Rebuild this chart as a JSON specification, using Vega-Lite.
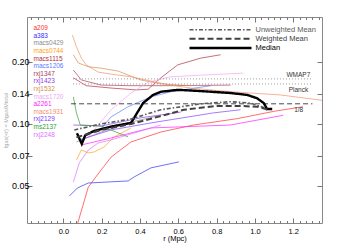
{
 "$schema": "https://vega.github.io/schema/vega-lite/v6.json",
 "width": 295, "height": 206,
 "autosize": {"type": "none"},
 "padding": {"left": 27, "top": 17, "right": 27, "bottom": 24},
 "background": "white",
 "config": {
  "view": {"stroke": "#888", "strokeWidth": 1},
  "font": "Liberation Sans",
  "axis": {"domain": false, "grid": false, "tickColor": "#777", "labelColor": "#000", "titleFontWeight": "normal", "labelFont": "Liberation Sans", "titleFont": "Liberation Sans"}
 },
 "datasets": {
  "clusters": [
   {"c":"a209","r":0.075,"f":0.0331},{"c":"a209","r":0.13,"f":0.0494},{"c":"a209","r":0.197,"f":0.0598},{"c":"a209","r":0.249,"f":0.069},{"c":"a209","r":0.353,"f":0.0817},{"c":"a209","r":0.509,"f":0.0913},{"c":"a209","r":0.68,"f":0.0987},{"c":"a209","r":0.909,"f":0.106},{"c":"a209","r":1.1,"f":0.115},{"c":"a209","r":1.25,"f":0.121},
   {"c":"a383","r":0.031,"f":0.0447},{"c":"a383","r":0.073,"f":0.0489},{"c":"a383","r":0.13,"f":0.0517},{"c":"a383","r":0.338,"f":0.0529},{"c":"a383","r":0.369,"f":0.0553},{"c":"a383","r":0.457,"f":0.0612},{"c":"a383","r":0.603,"f":0.0654},
   {"c":"macs0429","r":0.068,"f":0.0817},{"c":"macs0429","r":0.197,"f":0.0913},{"c":"macs0429","r":0.353,"f":0.102},{"c":"macs0429","r":0.509,"f":0.11},
   {"c":"macs0744","r":0.068,"f":0.0668},{"c":"macs0744","r":0.094,"f":0.0747},{"c":"macs0744","r":0.13,"f":0.0723},{"c":"macs0744","r":0.161,"f":0.0731},{"c":"macs0744","r":0.213,"f":0.0773},{"c":"macs0744","r":0.265,"f":0.0864},{"c":"macs0744","r":0.353,"f":0.0955},
   {"c":"macs1115","r":0.052,"f":0.167},{"c":"macs1115","r":0.119,"f":0.153},{"c":"macs1115","r":0.249,"f":0.149},{"c":"macs1115","r":0.379,"f":0.146},{"c":"macs1115","r":0.442,"f":0.147},{"c":"macs1115","r":0.509,"f":0.167},{"c":"macs1115","r":0.597,"f":0.193},{"c":"macs1115","r":0.717,"f":0.208},{"c":"macs1115","r":0.821,"f":0.216},
   {"c":"macs1206","r":0.182,"f":0.0913},{"c":"macs1206","r":0.249,"f":0.108},{"c":"macs1206","r":0.338,"f":0.121},{"c":"macs1206","r":0.457,"f":0.135},{"c":"macs1206","r":0.561,"f":0.143},{"c":"macs1206","r":0.769,"f":0.153},
   {"c":"rxj1347","r":0.052,"f":0.182},{"c":"rxj1347","r":0.094,"f":0.163},{"c":"rxj1347","r":0.197,"f":0.154},{"c":"rxj1347","r":0.353,"f":0.153},{"c":"rxj1347","r":0.561,"f":0.153},{"c":"rxj1347","r":0.873,"f":0.154},
   {"c":"rxj1423","r":0.052,"f":0.0987},{"c":"rxj1423","r":0.197,"f":0.0976},{"c":"rxj1423","r":0.405,"f":0.107},{"c":"rxj1423","r":0.613,"f":0.114},
   {"c":"rxj1532","r":0.052,"f":0.216},{"c":"rxj1532","r":0.078,"f":0.197},{"c":"rxj1532","r":0.13,"f":0.189},{"c":"rxj1532","r":0.197,"f":0.186},{"c":"rxj1532","r":0.286,"f":0.18},{"c":"rxj1532","r":0.405,"f":0.163},{"c":"rxj1532","r":0.509,"f":0.156},{"c":"rxj1532","r":0.665,"f":0.153},
   {"c":"macs1720","r":0.13,"f":0.0866},{"c":"macs1720","r":0.249,"f":0.117},{"c":"macs1720","r":0.353,"f":0.141},{"c":"macs1720","r":0.442,"f":0.159},{"c":"macs1720","r":0.561,"f":0.169},{"c":"macs1720","r":0.717,"f":0.172},{"c":"macs1720","r":0.94,"f":0.176},
   {"c":"a2261","r":0.094,"f":0.079},{"c":"a2261","r":0.249,"f":0.0854},{"c":"a2261","r":0.457,"f":0.0955},{"c":"a2261","r":0.873,"f":0.0987},{"c":"a2261","r":1.148,"f":0.11},
   {"c":"macs1931","r":0.047,"f":0.269},{"c":"macs1931","r":0.068,"f":0.236},{"c":"macs1931","r":0.094,"f":0.208},{"c":"macs1931","r":0.119,"f":0.193},{"c":"macs1931","r":0.182,"f":0.178},{"c":"macs1931","r":0.249,"f":0.174},{"c":"macs1931","r":0.353,"f":0.169},{"c":"macs1931","r":0.457,"f":0.161},{"c":"macs1931","r":0.561,"f":0.154},{"c":"macs1931","r":0.665,"f":0.149},{"c":"macs1931","r":0.873,"f":0.143},{"c":"macs1931","r":1.132,"f":0.138},{"c":"macs1931","r":1.35,"f":0.13},
   {"c":"rxj2129","r":0.083,"f":0.0836},{"c":"rxj2129","r":0.249,"f":0.0934},{"c":"rxj2129","r":0.457,"f":0.101},{"c":"rxj2129","r":0.784,"f":0.113},{"c":"rxj2129","r":0.925,"f":0.117},
   {"c":"ms2137","r":0.052,"f":0.135},{"c":"ms2137","r":0.068,"f":0.113},{"c":"ms2137","r":0.088,"f":0.0987},{"c":"ms2137","r":0.197,"f":0.0976},{"c":"ms2137","r":0.338,"f":0.0864},
   {"c":"rxj2248","r":0.052,"f":0.0522},{"c":"rxj2248","r":0.083,"f":0.0647},{"c":"rxj2248","r":0.13,"f":0.0747},{"c":"rxj2248","r":0.182,"f":0.0808},{"c":"rxj2248","r":0.249,"f":0.0836},{"c":"rxj2248","r":0.509,"f":0.0987}
  ],
  "stats": [
   {"s":"Median","r":0.071,"f":0.09},{"s":"Median","r":0.096,"f":0.08},{"s":"Median","r":0.114,"f":0.088},{"s":"Median","r":0.156,"f":0.092},{"s":"Median","r":0.249,"f":0.097},{"s":"Median","r":0.353,"f":0.101},{"s":"Median","r":0.416,"f":0.126},{"s":"Median","r":0.468,"f":0.138},{"s":"Median","r":0.509,"f":0.143},{"s":"Median","r":0.596,"f":0.146},{"s":"Median","r":0.665,"f":0.145},{"s":"Median","r":0.769,"f":0.143},{"s":"Median","r":0.873,"f":0.141},{"s":"Median","r":0.96,"f":0.138},{"s":"Median","r":1.011,"f":0.133},{"s":"Median","r":1.046,"f":0.126},{"s":"Median","r":1.063,"f":0.118},{"s":"Median","r":1.09,"f":0.118},
   {"s":"Unweighted Mean","r":0.057,"f":0.0934},{"s":"Unweighted Mean","r":0.197,"f":0.0999},{"s":"Unweighted Mean","r":0.353,"f":0.1056},{"s":"Unweighted Mean","r":0.509,"f":0.117},{"s":"Unweighted Mean","r":0.717,"f":0.125},{"s":"Unweighted Mean","r":0.873,"f":0.128},{"s":"Unweighted Mean","r":0.977,"f":0.126},{"s":"Unweighted Mean","r":1.055,"f":0.119},
   {"s":"Weighted Mean","r":0.068,"f":0.086},{"s":"Weighted Mean","r":0.197,"f":0.0934},{"s":"Weighted Mean","r":0.353,"f":0.0999},{"s":"Weighted Mean","r":0.509,"f":0.109},{"s":"Weighted Mean","r":0.629,"f":0.117},{"s":"Weighted Mean","r":0.8,"f":0.122},{"s":"Weighted Mean","r":0.925,"f":0.122},{"s":"Weighted Mean","r":1.013,"f":0.121},{"s":"Weighted Mean","r":1.07,"f":0.117}
  ],
  "dotted": [{"ref":"WMAP7","f":0.165,"r1":0.05,"r2":1.3},{"ref":"Planck","f":0.156,"r1":0.05,"r2":1.3}],
  "dashed": [{"ref":"1/8","f":0.125,"r1":0.04,"r2":1.3}],
  "labels": [{"t":"WMAP7","r":1.289,"f":0.172},{"t":"Planck","r":1.278,"f":0.146},{"t":"1/8","r":1.252,"f":0.117}]
 },
 "resolve": {"axis": {"x": "independent", "y": "independent"}},
 "layer": [
  {
   "data": {"name": "clusters"},
   "mark": {"type": "line", "strokeWidth": 0.7, "clip": true},
   "encoding": {
    "x": {"field": "r", "type": "quantitative", "scale": {"domain": [-0.19, 1.35], "nice": false, "zero": false},
      "axis": {"orient": "bottom", "values": [0, 0.2, 0.4, 0.6, 0.8, 1.0, 1.2], "format": ".1f", "tickSize": -5, "labelFontSize": 7.5, "labelPadding": 9, "title": "r  (Mpc)", "titleFontSize": 7.5, "titlePadding": 0}},
    "y": {"field": "f", "type": "quantitative", "scale": {"type": "log", "domain": [0.0331, 0.329], "nice": false},
      "axis": {"orient": "left", "values": [0.05, 0.07, 0.1, 0.14, 0.2], "format": ".2f", "tickSize": -5, "labelFontSize": 9, "labelPadding": 3, "title": "fgas(<r) = Mgas/Mtotal", "titleFontSize": 5.5, "titleColor": "#aaa", "titlePadding": 3}},
    "color": {"field": "c", "type": "nominal",
      "scale": {"domain": ["a209","a383","macs0429","macs0744","macs1115","macs1206","rxj1347","rxj1423","rxj1532","macs1720","a2261","macs1931","rxj2129","ms2137","rxj2248"],
                "range": ["#ff3030","#3030ff","#8c8c8c","#ffa020","#b03040","#5a7cff","#a8405a","#9040e0","#d09050","#f0a8f0","#ff20ff","#f09070","#8040ff","#30a030","#e070ff"]},
      "legend": {"orient": "none", "legendX": 0, "legendY": 8, "title": null, "symbolSize": 0, "symbolStrokeWidth": 0, "symbolOpacity": 0, "labelFontSize": 6.5, "labelOffset": 0, "rowPadding": 0.6, "padding": 0, "labelFont": "Liberation Sans",
        "encode": {"labels": {"update": {"fill": {"scale": "color", "field": "value"}}}}}}
   }
  },
  {
   "data": {"name": "dotted"},
   "mark": {"type": "rule", "strokeDash": [1, 2], "color": "#888", "strokeWidth": 0.8},
   "encoding": {
    "x": {"field": "r1", "type": "quantitative", "scale": {"domain": [-0.19, 1.35], "nice": false, "zero": false},
      "axis": {"orient": "top", "values": [0, 0.2, 0.4, 0.6, 0.8, 1.0, 1.2], "labels": false, "tickSize": -5, "title": null}},
    "x2": {"field": "r2"},
    "y": {"field": "f", "type": "quantitative", "scale": {"type": "log", "domain": [0.0331, 0.329], "nice": false}, "axis": null}
   }
  },
  {
   "data": {"name": "dashed"},
   "mark": {"type": "rule", "strokeDash": [5, 3], "color": "#333", "strokeWidth": 0.9},
   "encoding": {
    "x": {"field": "r1", "type": "quantitative", "scale": {"domain": [-0.19, 1.35], "nice": false, "zero": false},
      "axis": {"orient": "bottom", "values": [-0.1667,-0.1333,-0.1,-0.0667,-0.0333,0.0333,0.0667,0.1,0.1333,0.1667,0.2333,0.2667,0.3,0.3333,0.3667,0.4333,0.4667,0.5,0.5333,0.5667,0.6333,0.6667,0.7,0.7333,0.7667,0.8333,0.8667,0.9,0.9333,0.9667,1.0333,1.0667,1.1,1.1333,1.1667,1.2333,1.2667,1.3,1.3333], "labels": false, "tickSize": -2.5, "title": null}},
    "x2": {"field": "r2"},
    "y": {"field": "f", "type": "quantitative", "scale": {"type": "log", "domain": [0.0331, 0.329], "nice": false},
      "axis": {"orient": "right", "values": [0.05, 0.07, 0.1, 0.14, 0.2], "labels": false, "tickSize": -5, "title": null}}
   }
  },
  {
   "data": {"name": "stats"},
   "mark": {"type": "line", "clip": true},
   "encoding": {
    "x": {"field": "r", "type": "quantitative", "scale": {"domain": [-0.19, 1.35], "nice": false, "zero": false},
      "axis": {"orient": "top", "values": [-0.1667,-0.1333,-0.1,-0.0667,-0.0333,0.0333,0.0667,0.1,0.1333,0.1667,0.2333,0.2667,0.3,0.3333,0.3667,0.4333,0.4667,0.5,0.5333,0.5667,0.6333,0.6667,0.7,0.7333,0.7667,0.8333,0.8667,0.9,0.9333,0.9667,1.0333,1.0667,1.1,1.1333,1.1667,1.2333,1.2667,1.3,1.3333], "labels": false, "tickSize": -2.5, "title": null}},
    "y": {"field": "f", "type": "quantitative", "scale": {"type": "log", "domain": [0.0331, 0.329], "nice": false}, "axis": null},
    "stroke": {"field": "s", "type": "nominal",
      "scale": {"domain": ["Unweighted Mean", "Weighted Mean", "Median"], "range": ["#5a5a5a", "#404040", "#000000"]},
      "legend": {"orient": "none", "legendX": 189.5, "legendY": 9, "title": null, "symbolType": "M-12.4,0H12.4", "symbolSize": 25, "symbolFillColor": "transparent", "labelFontSize": 7.5, "labelOffset": 31, "rowPadding": 0, "padding": 0, "labelFont": "Liberation Sans",
        "encode": {"labels": {"update": {"fill": {"scale": "stroke", "field": "value"}}}}}},
    "strokeDash": {"field": "s", "type": "nominal",
      "scale": {"domain": ["Unweighted Mean", "Weighted Mean", "Median"], "range": [[4, 2, 1.5, 2], [6, 3], [1, 0]]},
      "legend": {"orient": "none", "legendX": 189.5, "legendY": 9, "title": null, "symbolType": "M-12.4,0H12.4", "symbolSize": 25, "symbolFillColor": "transparent", "labelFontSize": 7.5, "labelOffset": 31, "rowPadding": 0, "padding": 0, "labelFont": "Liberation Sans",
        "encode": {"labels": {"update": {"fill": {"scale": "stroke", "field": "value"}}}}}},
    "strokeWidth": {"field": "s", "type": "nominal",
      "scale": {"domain": ["Unweighted Mean", "Weighted Mean", "Median"], "range": [1.6, 2.4, 2.2]},
      "legend": {"orient": "none", "legendX": 189.5, "legendY": 9, "title": null, "symbolType": "M-12.4,0H12.4", "symbolSize": 25, "symbolFillColor": "transparent", "labelFontSize": 7.5, "labelOffset": 31, "rowPadding": 0, "padding": 0, "labelFont": "Liberation Sans",
        "encode": {"labels": {"update": {"fill": {"scale": "stroke", "field": "value"}}}}}}
   }
  },
  {
   "data": {"name": "labels"},
   "mark": {"type": "text", "align": "right", "baseline": "middle", "fontSize": 6.5, "color": "#333", "font": "Liberation Sans"},
   "encoding": {
    "x": {"field": "r", "type": "quantitative", "scale": {"domain": [-0.19, 1.35], "nice": false, "zero": false}, "axis": null},
    "y": {"field": "f", "type": "quantitative", "scale": {"type": "log", "domain": [0.0331, 0.329], "nice": false}, "axis": null},
    "text": {"field": "t"}
   }
  }
 ]
}
